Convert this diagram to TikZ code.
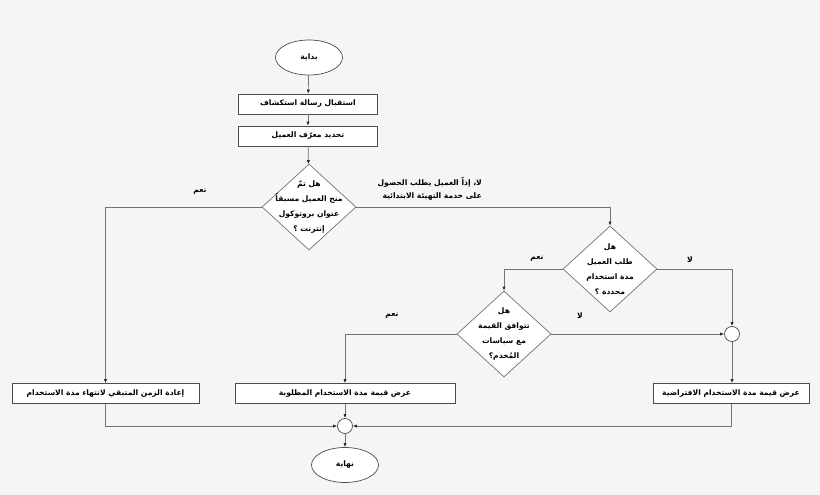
\documentclass[tikz,border=0pt]{standalone}
\usepackage{fontspec}
\usetikzlibrary{shapes.geometric,arrows.meta}
\newfontfamily\arabicfont[Script=Arabic]{DejaVu Sans Bold}
\TeXXeTstate=1
\begin{document}
\begin{tikzpicture}[x=1pt,y=-1pt,
  every node/.style={font=\arabicfont\fontsize{7.6}{15}\selectfont, text=black},
  box/.style={rectangle, draw=black!70, fill=white, minimum height=20pt, inner sep=0pt, line width=0.7pt},
  term/.style={ellipse, draw=black!70, fill=white, minimum width=67pt, minimum height=35pt, inner sep=0pt, line width=0.7pt},
  dec/.style={diamond, draw=black!55, fill=white, minimum width=94pt, minimum height=86pt, inner sep=0pt, line width=0.7pt},
  junc/.style={circle, draw=black!70, fill=white, minimum size=15pt, inner sep=0pt, line width=0.7pt},
  conn/.style={draw=black!55, line width=0.7pt, -{Latex[length=4pt,width=3.2pt,color=black!85]}},
  lbl/.style={inner sep=0pt}]
\fill[black!4] (0,0) rectangle (820,495);
\useasboundingbox (0,0) rectangle (820,495);

\node[term] (start) at (309,57.5) {\beginR بداية\endR};
\node[box, minimum width=139pt] (b1) at (308,104) {\beginR استقبال رسالة استكشاف\endR};
\node[box, minimum width=139pt] (b2) at (308,136) {\beginR تحديد معرّف العميل\endR};
\node[dec, label={[align=center]center:{\beginR هل تمّ\endR\\\beginR منح العميل مسبقاً\endR\\\beginR عنوان بروتوكول\endR\\\beginR إنترنت ؟\endR}}] (d1) at (309,207) {};
\node[dec, label={[align=center]center:{\beginR هل\endR\\\beginR طلب العميل\endR\\\beginR مدة استخدام\endR\\\beginR محددة ؟\endR}}] (d2) at (610,269) {};
\node[dec, label={[align=center]center:{\beginR هل\endR\\\beginR تتوافق القيمة\endR\\\beginR مع سياسات\endR\\\beginR المُخدم؟\endR}}] (d3) at (504,334) {};
\node[junc] (c1) at (732,334) {};
\node[box, minimum width=187pt] (lb) at (105.5,393.5) {\beginR إعادة الزمن المتبقي لانتهاء مدة الاستخدام\endR};
\node[box, minimum width=220pt] (mb) at (345,393.5) {\beginR عرض قيمة مدة الاستخدام المطلوبة\endR};
\node[box, minimum width=156pt] (rb) at (731,393.5) {\beginR عرض قيمة مدة الاستخدام الافتراضية\endR};
\node[junc] (c2) at (345,426) {};
\node[term] (end) at (345,465) {\beginR نهاية\endR};

\coordinate (p1) at (105.5,207);
\coordinate (p2) at (610,207);
\coordinate (p3) at (504,269);
\coordinate (p4) at (732,269);
\coordinate (p5) at (345,334);
\coordinate (p6) at (105.5,426);
\coordinate (p7) at (731,426);

\draw[conn] (start) -- (b1);
\draw[conn] (b1) -- (b2);
\draw[conn] (b2) -- (d1);
\draw[conn] (d1.west) -- (p1) -- (lb.north);
\draw[conn] (d1.east) -- (p2) -- (d2.north);
\draw[conn] (d2.west) -- (p3) -- (d3.north);
\draw[conn] (d2.east) -- (p4) -- (c1.north);
\draw[conn] (d3.west) -- (p5) -- (mb.north);
\draw[conn] (d3.east) -- (c1.west);
\draw[conn] (c1) -- (rb.north -| c1);
\draw[conn] (lb.south) -- (p6) -- (c2.west);
\draw[conn] (mb.south) -- (c2.north);
\draw[conn] (rb.south -| p7) -- (p7) -- (c2.east);
\draw[conn] (c2) -- (end);

\node[lbl] (l1) at (200,192) {\beginR نعم\endR};
\node[lbl, align=right, anchor=east, font=\arabicfont\fontsize{7.6}{13}\selectfont] (l2) at (482,189) {\beginR لا، إذاً العميل يطلب الحصول\endR\\\beginR على خدمة التهيئة الابتدائية\endR};
\node[lbl] (l3) at (537,259) {\beginR نعم\endR};
\node[lbl] (l4) at (690,260) {\beginR لا\endR};
\node[lbl] (l5) at (392,316) {\beginR نعم\endR};
\node[lbl] (l6) at (580,316) {\beginR لا\endR};
\end{tikzpicture}
\end{document}
